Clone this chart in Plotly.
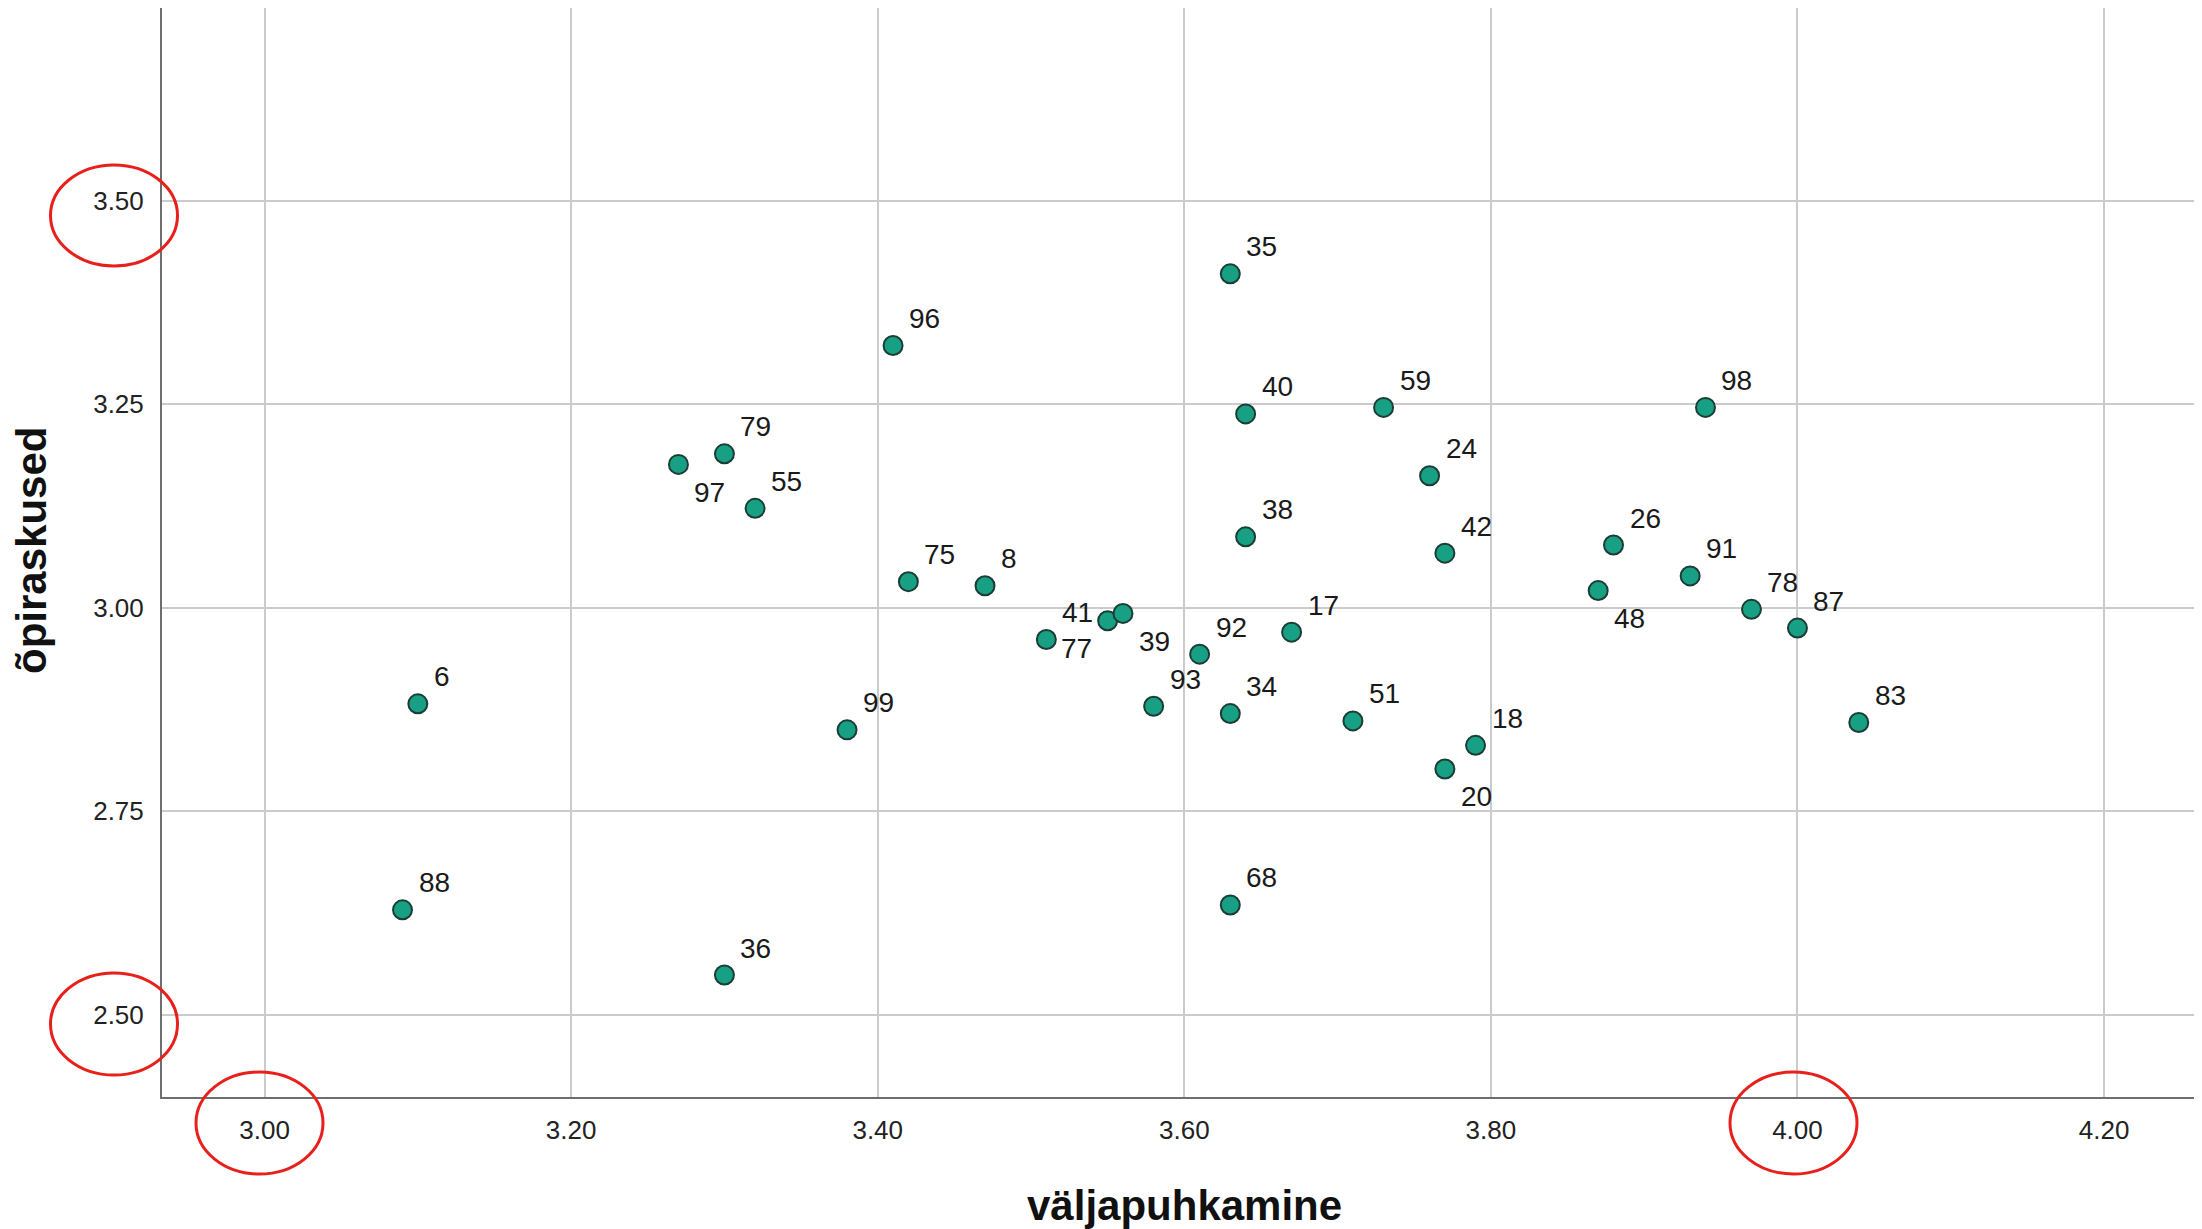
import plotly.graph_objects as go

# ---- data ----
case_labels = ["35", "96", "40", "59", "98", "79", "97", "55", "24", "38", "42", "26",
               "91", "48", "78", "87", "75", "8", "41", "77", "39", "92", "17", "93",
               "34", "51", "18", "20", "83", "6", "99", "88", "36", "68"]
valjapuhkamine = [3.63, 3.41, 3.64, 3.73, 3.94, 3.30, 3.27, 3.32, 3.76, 3.64, 3.77, 3.88,
                  3.93, 3.87, 3.97, 4.00, 3.42, 3.47, 3.51, 3.55, 3.56, 3.61, 3.67, 3.58,
                  3.63, 3.71, 3.79, 3.77, 4.04, 3.10, 3.38, 3.09, 3.30, 3.63]
opiraskused = [3.41, 3.322, 3.238, 3.246, 3.246, 3.189, 3.176, 3.122, 3.162, 3.087, 3.067, 3.077,
               3.039, 3.021, 2.998, 2.975, 3.032, 3.027, 2.961, 2.984, 2.993, 2.943, 2.970, 2.879,
               2.870, 2.861, 2.831, 2.802, 2.859, 2.882, 2.850, 2.629, 2.549, 2.635]
x_ticks = [3.00, 3.20, 3.40, 3.60, 3.80, 4.00, 4.20]
y_ticks = [2.50, 2.75, 3.00, 3.25, 3.50]
x_title = "väljapuhkamine"
y_title = "õpiraskused"

# label placement (style): default upper-right
label_place = {"97": "lr", "48": "lr", "20": "lr", "39": "lr", "77": "ll"}

# ---- layout geometry (page pixels; the page body adds an 8px offset) ----
OFF = 8
W, H = 2202 - OFF, 1229 - OFF
PLOT_L, PLOT_T, PLOT_R, PLOT_B = 162, 8, 2202, 1097   # plot area on the page
ML, MT = PLOT_L - OFF, PLOT_T - OFF
MR, MB = (W + OFF) - PLOT_R, (H + OFF) - PLOT_B
PW, PH = PLOT_R - PLOT_L, PLOT_B - PLOT_T


def px_x(px):
    return (px - PLOT_L) / PW


def px_y(py):
    return (PLOT_B - py) / PH


fig = go.Figure()
fig.add_trace(go.Scatter(
    x=valjapuhkamine, y=opiraskused, mode="markers",
    marker=dict(size=19, color="#17a083", line=dict(color="#1c3d35", width=2)),
    hoverinfo="skip", showlegend=False, cliponaxis=False,
))

font_family = "Liberation Sans, Arial, sans-serif"
annotations = []
for lab, xv, yv in zip(case_labels, valjapuhkamine, opiraskused):
    place = label_place.get(lab, "ur")
    if place == "ur":
        xa, xs, ys = "left", 14, 27
    elif place == "lr":
        xa, xs, ys = "left", 14, -28
    else:
        xa, xs, ys = "right", -14, -28
    annotations.append(dict(
        x=xv, y=yv, xref="x", yref="y", text=lab, showarrow=False,
        xanchor=xa, yanchor="middle", xshift=xs, yshift=ys,
        font=dict(size=28, color="#1a1a1a", family=font_family),
    ))

# axis titles
annotations.append(dict(
    x=px_x(1184), y=px_y(1205), xref="paper", yref="paper", text=f"<b>{x_title}</b>",
    showarrow=False, xanchor="center", yanchor="middle",
    font=dict(size=42, color="#111111", family=font_family),
))
annotations.append(dict(
    x=px_x(31), y=px_y(551), xref="paper", yref="paper", text=f"<b>{y_title}</b>",
    showarrow=False, xanchor="center", yanchor="middle", textangle=-90,
    font=dict(size=42, color="#111111", family=font_family),
))

ellipses_px = [(50.5, 177.5, 165, 266), (50.5, 177.5, 973, 1075),
               (196, 323, 1072, 1174), (1730, 1857, 1072, 1174)]
shapes = []
for x0, x1, y0, y1 in ellipses_px:
    shapes.append(dict(type="circle", xref="paper", yref="paper",
                       x0=px_x(x0), x1=px_x(x1), y0=px_y(y1), y1=px_y(y0),
                       line=dict(color="#e8201c", width=3), fillcolor="rgba(0,0,0,0)",
                       layer="above"))

fig.update_layout(
    width=W, height=H,
    margin=dict(l=ML, r=MR, t=MT, b=MB, pad=0, autoexpand=False),
    paper_bgcolor="white", plot_bgcolor="white",
    font=dict(family=font_family, color="#222222"),
    annotations=annotations,
    shapes=shapes,
    xaxis=dict(
        range=[2.9331, 4.2639], tickvals=x_ticks, ticktext=[f"{v:.2f}" for v in x_ticks],
        showgrid=True, gridcolor="#cbcbcb", gridwidth=2, zeroline=False,
        showline=True, linecolor="#6e6e6e", linewidth=2, ticks="",
        tickfont=dict(size=26, color="#222222"), ticklabelstandoff=9, automargin=False,
    ),
    yaxis=dict(
        range=[2.3992, 3.7364], tickvals=y_ticks, ticktext=[f"{v:.2f}" for v in y_ticks],
        showgrid=True, gridcolor="#cbcbcb", gridwidth=2, zeroline=False,
        showline=True, linecolor="#6e6e6e", linewidth=2, ticks="",
        tickfont=dict(size=26, color="#222222"), ticklabelstandoff=11, automargin=False,
    ),
)

fig.write_html("out.html")
